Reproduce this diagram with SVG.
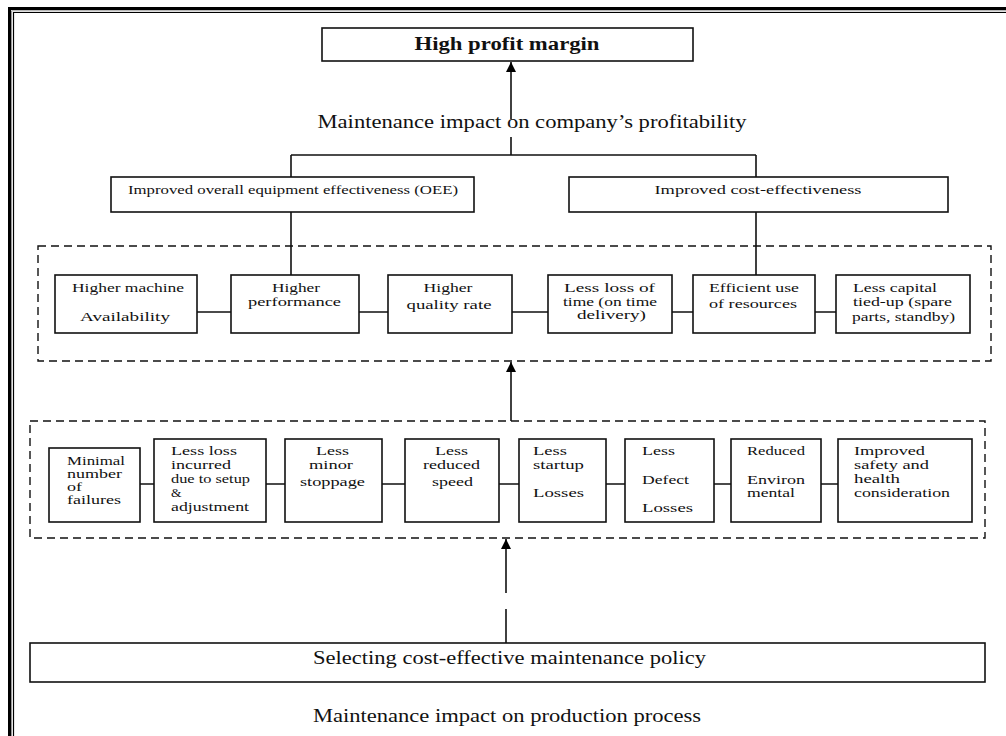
<svg xmlns="http://www.w3.org/2000/svg" width="1006" height="736" viewBox="0 0 1006 736">
<defs>
<marker id="ah" viewBox="0 0 10 10" refX="10" refY="5" markerWidth="10" markerHeight="10" markerUnits="userSpaceOnUse" orient="auto">
<path d="M0,0 L10,5 L0,10 z" fill="#000"/>
</marker>
<style>
text{font-family:"Liberation Serif","Times New Roman",serif;fill:#111;}
.b{fill:#fff;stroke:#111;stroke-width:1.6;}
.d{fill:none;stroke:#111;stroke-width:1.4;stroke-dasharray:8 5;}
.l{fill:none;stroke:#111;stroke-width:1.6;}
.a{fill:none;stroke:#111;stroke-width:1.6;marker-end:url(#ah);}
.s{font-size:13.5px;}
.m{font-size:13px;}
.t{font-size:19px;}
.c{text-anchor:middle;}
</style>
</defs>
<rect width="1006" height="736" fill="#fff"/>
<g id="frame">
<path d="M9.5,740 V8.5 H1010" fill="none" stroke="#000" stroke-width="3"/>
<path d="M11.5,740 V10.8 H1010" fill="none" stroke="#999" stroke-width="1"/>
<path d="M13.5,740 V12.5 H1010" fill="none" stroke="#000" stroke-width="1.2"/>
</g>
<g id="connectors">
<path class="a" d="M511,119 V62"/>
<path class="l" d="M511,137 V155 M291,155 H756 M291,155 V177 M756,155 V177"/>
<path class="l" d="M291,212 V275 M756,212 V275"/>
<path class="l" d="M197,312 H231 M359,312 H388 M512,312 H548 M672,312 H693 M815,312 H836"/>
<path class="a" d="M511,421 V362"/>
<path class="l" d="M140,484 H154 M266,484 H285 M382,484 H405 M499,484 H519 M606,484 H625 M714,484 H731 M821,484 H838"/>
<path class="a" d="M506,593 V539"/>
<path class="l" d="M506,609 V643"/>
</g>
<g id="n-high-profit">
<rect class="b" x="322" y="28" width="371" height="33"/>
<text x="507" y="50" class="c" font-size="18" font-weight="bold" textLength="185" lengthAdjust="spacingAndGlyphs">High profit margin</text>
</g>
<g id="label-profitability">
<text x="532" y="128" class="c t" textLength="429" lengthAdjust="spacingAndGlyphs">Maintenance impact on company’s profitability</text>
</g>
<g id="n-oee">
<rect class="b" x="111" y="177" width="363" height="35"/>
<text x="293" y="194" class="c m" textLength="330" lengthAdjust="spacingAndGlyphs">Improved overall equipment effectiveness (OEE)</text>
</g>
<g id="n-cost">
<rect class="b" x="569" y="177" width="379" height="35"/>
<text x="758" y="194" class="c m" textLength="207" lengthAdjust="spacingAndGlyphs">Improved cost-effectiveness</text>
</g>
<g id="group-1">
<rect class="d" x="38" y="246" width="953" height="115"/>
</g>
<g id="n-availability">
<rect class="b" x="55" y="275" width="142" height="58"/>
<text x="128" y="292" class="c s" textLength="112" lengthAdjust="spacingAndGlyphs">Higher machine</text>
<text x="125" y="321" class="c s" textLength="90" lengthAdjust="spacingAndGlyphs">Availability</text>
</g>
<g id="n-performance">
<rect class="b" x="231" y="275" width="128" height="58"/>
<text x="296" y="292" class="c s" textLength="48" lengthAdjust="spacingAndGlyphs">Higher</text>
<text x="294.5" y="306" class="c s" textLength="93" lengthAdjust="spacingAndGlyphs">performance</text>
</g>
<g id="n-quality">
<rect class="b" x="388" y="275" width="124" height="58"/>
<text x="448" y="292" class="c s" textLength="49" lengthAdjust="spacingAndGlyphs">Higher</text>
<text x="449" y="309" class="c s" textLength="85" lengthAdjust="spacingAndGlyphs">quality rate</text>
</g>
<g id="n-time">
<rect class="b" x="548" y="275" width="124" height="58"/>
<text x="609.5" y="292" class="c s" textLength="91" lengthAdjust="spacingAndGlyphs">Less loss of</text>
<text x="610" y="306" class="c s" textLength="94" lengthAdjust="spacingAndGlyphs">time (on time</text>
<text x="611.5" y="319" class="c s" textLength="69" lengthAdjust="spacingAndGlyphs">delivery)</text>
</g>
<g id="n-resources">
<rect class="b" x="693" y="275" width="122" height="58"/>
<text x="709" y="292" class="s" textLength="90" lengthAdjust="spacingAndGlyphs">Efficient use</text>
<text x="709" y="308" class="s" textLength="88" lengthAdjust="spacingAndGlyphs">of resources</text>
</g>
<g id="n-capital">
<rect class="b" x="836" y="275" width="134" height="58"/>
<text x="853" y="292" class="s" textLength="84" lengthAdjust="spacingAndGlyphs">Less capital</text>
<text x="853" y="306" class="s" textLength="99" lengthAdjust="spacingAndGlyphs">tied-up (spare</text>
<text x="852" y="321" class="s" textLength="103" lengthAdjust="spacingAndGlyphs">parts, standby)</text>
</g>
<g id="group-2">
<rect class="d" x="30" y="421" width="955" height="117"/>
</g>
<g id="n-failures">
<rect class="b" x="49" y="448" width="91" height="74"/>
<text x="67" y="465" class="s" textLength="58" lengthAdjust="spacingAndGlyphs">Minimal</text>
<text x="67" y="478" class="s" textLength="55" lengthAdjust="spacingAndGlyphs">number</text>
<text x="67" y="491" class="s" textLength="15" lengthAdjust="spacingAndGlyphs">of</text>
<text x="67" y="504" class="s" textLength="54" lengthAdjust="spacingAndGlyphs">failures</text>
</g>
<g id="n-setup">
<rect class="b" x="154" y="439" width="112" height="83"/>
<text x="171" y="455" class="s" textLength="66" lengthAdjust="spacingAndGlyphs">Less loss</text>
<text x="171" y="469" class="s" textLength="60" lengthAdjust="spacingAndGlyphs">incurred</text>
<text x="171" y="483" class="s" textLength="79" lengthAdjust="spacingAndGlyphs">due to setup</text>
<text x="171" y="497" class="s">&amp;</text>
<text x="171" y="511" class="s" textLength="78" lengthAdjust="spacingAndGlyphs">adjustment</text>
</g>
<g id="n-stoppage">
<rect class="b" x="285" y="439" width="97" height="83"/>
<text x="332.5" y="455" class="c s" textLength="33" lengthAdjust="spacingAndGlyphs">Less</text>
<text x="331" y="469" class="c s" textLength="44" lengthAdjust="spacingAndGlyphs">minor</text>
<text x="332.5" y="486" class="c s" textLength="65" lengthAdjust="spacingAndGlyphs">stoppage</text>
</g>
<g id="n-speed">
<rect class="b" x="405" y="439" width="94" height="83"/>
<text x="451.5" y="455" class="c s" textLength="33" lengthAdjust="spacingAndGlyphs">Less</text>
<text x="451.5" y="469" class="c s" textLength="57" lengthAdjust="spacingAndGlyphs">reduced</text>
<text x="452.5" y="486" class="c s" textLength="41" lengthAdjust="spacingAndGlyphs">speed</text>
</g>
<g id="n-startup">
<rect class="b" x="519" y="439" width="87" height="83"/>
<text x="533" y="455" class="s" textLength="34" lengthAdjust="spacingAndGlyphs">Less</text>
<text x="533" y="469" class="s" textLength="51" lengthAdjust="spacingAndGlyphs">startup</text>
<text x="533" y="497" class="s" textLength="51" lengthAdjust="spacingAndGlyphs">Losses</text>
</g>
<g id="n-defect">
<rect class="b" x="625" y="439" width="89" height="83"/>
<text x="642" y="455" class="s" textLength="33" lengthAdjust="spacingAndGlyphs">Less</text>
<text x="642" y="484" class="s" textLength="47" lengthAdjust="spacingAndGlyphs">Defect</text>
<text x="642" y="512" class="s" textLength="51" lengthAdjust="spacingAndGlyphs">Losses</text>
</g>
<g id="n-environmental">
<rect class="b" x="731" y="439" width="90" height="83"/>
<text x="747" y="455" class="s" textLength="58" lengthAdjust="spacingAndGlyphs">Reduced</text>
<text x="747" y="484" class="s" textLength="58" lengthAdjust="spacingAndGlyphs">Environ</text>
<text x="747" y="497" class="s" textLength="48" lengthAdjust="spacingAndGlyphs">mental</text>
</g>
<g id="n-safety">
<rect class="b" x="838" y="439" width="134" height="83"/>
<text x="854" y="455" class="s" textLength="71" lengthAdjust="spacingAndGlyphs">Improved</text>
<text x="854" y="469" class="s" textLength="75" lengthAdjust="spacingAndGlyphs">safety and</text>
<text x="854" y="483" class="s" textLength="46" lengthAdjust="spacingAndGlyphs">health</text>
<text x="854" y="497" class="s" textLength="96" lengthAdjust="spacingAndGlyphs">consideration</text>
</g>
<g id="n-policy">
<rect class="b" x="30" y="643" width="955" height="39"/>
<text x="509.5" y="664" class="c t" font-size="18" textLength="393" lengthAdjust="spacingAndGlyphs">Selecting cost-effective maintenance policy</text>
</g>
<g id="label-production">
<text x="507" y="722" class="c t" font-size="18" textLength="388" lengthAdjust="spacingAndGlyphs">Maintenance impact on production process</text>
</g>
</svg>
